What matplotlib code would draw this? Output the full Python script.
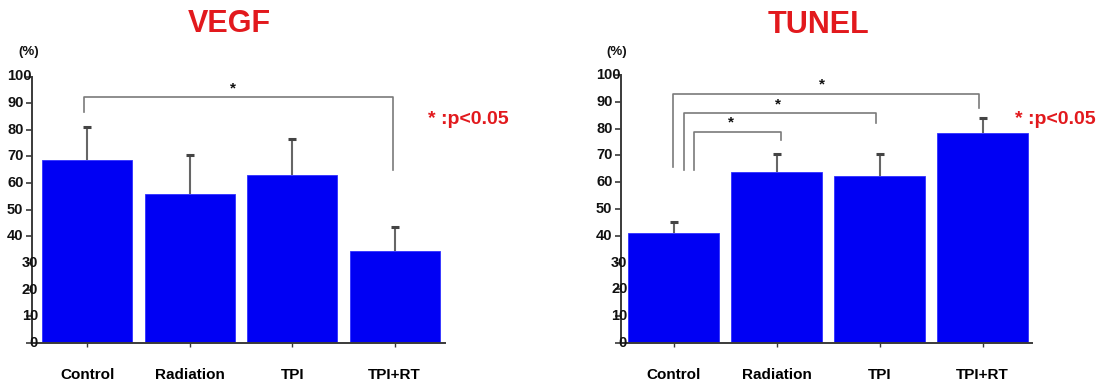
import matplotlib
matplotlib.use("Agg")
import matplotlib.pyplot as plt
import matplotlib.transforms as mtransforms

# %% Data
groups = ["Control", "Radiation", "TPI", "TPI+RT"]
vegf_mean = [68.5, 56.0, 63.0, 34.5]
vegf_err = [12.5, 14.5, 13.5, 9.0]
tunel_mean = [41.0, 63.7, 62.3, 78.5]
tunel_err = [4.2, 6.8, 8.2, 5.5]
yticks = [0, 10, 20, 30, 40, 50, 60, 70, 80, 90, 100]

# %% Style
W, H = 1107, 383
BAR_COLOR = "#0000f4"
RED = "#e2191d"
GRAY = "#7a7a7a"
ERR_COLOR = "#666666"
AXIS_COLOR = "#3a3a3a"

plt.rcParams.update(
    {
        "font.family": ["Liberation Sans", "DejaVu Sans"],
        "font.weight": "bold",
        "axes.spines.right": False,
        "axes.spines.top": False,
        "axes.edgecolor": AXIS_COLOR,
        "axes.linewidth": 1.4,
    }
)

fig = plt.figure(figsize=(W / 100, H / 100), dpi=100)


def px(x0, y0):
    return x0 / W, 1 - y0 / H


def draw_panel(ax, means, errs, xlim, brackets):
    x = list(range(len(groups)))
    ax.bar(x, means, width=0.88, color=BAR_COLOR, edgecolor="#3030ff",
           linewidth=0.6, zorder=2)
    # upper error bars only
    tops = [m + e for m, e in zip(means, errs)]
    ax.vlines(x, means, tops, color=ERR_COLOR, lw=1.5, zorder=3)
    ax.plot(x, tops, ls="none", marker="_", ms=6, mew=2.2, color="#444444",
            zorder=3)
    ax.set_xlim(*xlim)
    ax.set_ylim(0, 100)
    ax.set_xticks(x)
    ax.set_xticklabels(groups, fontsize=11, fontweight="bold")
    ax.tick_params(axis="x", length=3, width=1, color=AXIS_COLOR, pad=15)
    ax.set_yticks(yticks)
    ax.set_yticklabels([])
    ax.tick_params(axis="y", length=4, width=1.2, color=AXIS_COLOR)

    # y tick labels, with the odd shifts of the original scan
    for v in yticks:
        if v >= 40:
            dx = -25
        elif v > 0:
            dx = -10
        else:
            dx = -3
        tr = ax.get_yaxis_transform() + mtransforms.ScaledTranslation(
            dx / 100, 0, fig.dpi_scale_trans)
        ax.text(0, v, str(v), transform=tr, ha="left", va="center",
                fontsize=10.5, fontweight="bold", color="#111111",
                clip_on=False)

    # significance brackets
    for x1, x2, yb, lb, rb, sx, sy in brackets:
        ax.plot([x1, x1, x2, x2], [lb, yb, yb, rb], color=GRAY, lw=1.2,
                zorder=4, clip_on=False)
        ax.text(sx, sy, "*", ha="center", va="center", fontsize=11,
                fontweight="bold", color="#111111")


ax1 = fig.add_axes([32 / W, 40 / H, 413 / W, 266.5 / H])
draw_panel(ax1, vegf_mean, vegf_err, (-0.537, 3.49),
           [(-0.03, 2.98, 92.4, 86.6, 65.0, 1.42, 95.5)])

ax2 = fig.add_axes([621 / W, 40 / H, 411 / W, 268 / H])
draw_panel(ax2, tunel_mean, tunel_err, (-0.51, 3.48),
           [(-0.01, 2.97, 93.0, 65.8, 87.6, 1.44, 96.5),
            (0.10, 1.97, 85.9, 64.6, 82.0, 1.01, 89.0),
            (0.20, 1.04, 78.6, 64.6, 75.7, 0.56, 82.2)])

# titles, unit labels and notes
fig.text(*px(229.5, 32), "VEGF", ha="center", va="baseline", fontsize=22,
         fontweight="bold", color=RED)
fig.text(*px(818, 33), "TUNEL", ha="center", va="baseline", fontsize=22,
         fontweight="bold", color=RED)
fig.text(*px(28.5, 51.5), "(%)", ha="center", va="center", fontsize=9.5,
         fontweight="bold", color="#111111")
fig.text(*px(616.5, 52), "(%)", ha="center", va="center", fontsize=9.5,
         fontweight="bold", color="#111111")
fig.text(*px(428, 124), "* :p<0.05", ha="left", va="baseline", fontsize=14,
         fontweight="bold", color=RED)
fig.text(*px(1015, 124), "* :p<0.05", ha="left", va="baseline", fontsize=14,
         fontweight="bold", color=RED)

fig.savefig("out.png", dpi=100)
